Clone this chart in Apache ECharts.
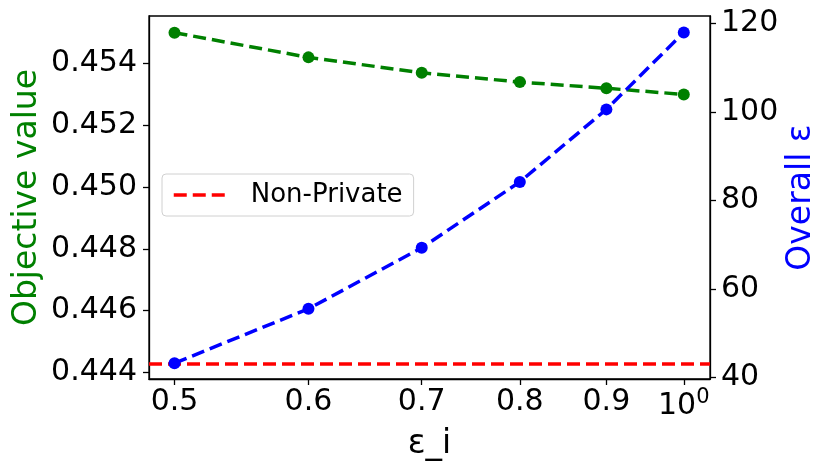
<!DOCTYPE html>
<html>
<head>
<meta charset="utf-8">
<script src="https://cdn.jsdelivr.net/npm/echarts@6/dist/echarts.min.js"></script>
<style>
  html, body { margin: 0; padding: 0; background: #fff; }
  #chart { width: 830px; height: 474px; }
</style>
</head>
<body>
<div id="chart"></div>
<script>
  // eps_i values on the x axis (log scale)
  var epsI = [0.5, 0.6, 0.7, 0.8, 0.9, 1.0];
  // objective value, left axis
  var objective = [0.4550, 0.4542, 0.4537, 0.4534, 0.4532, 0.4530];
  // overall epsilon, right axis
  var overallEps = [43.2, 55.5, 69.3, 84.2, 100.6, 118.0];
  var nonPrivate = 0.44429;

  var xTicks = [0.5, 0.6, 0.7, 0.8, 0.9, 1.0];
  var leftTicks = [0.444, 0.446, 0.448, 0.450, 0.452, 0.454];
  var rightTicks = [40, 60, 80, 100, 120];

  // axis limits
  var xMin = 0.48295, xMax = 1.0363;

  var font = 'DejaVu Sans';
  var dash = [13, 6];
  var tickSize = 30;

  function pairs(xs, ys) {
    return xs.map(function (x, i) { return [x, ys[i]]; });
  }

  var chart = echarts.init(document.getElementById('chart'));
  chart.setOption({
    animation: false,
    textStyle: { fontFamily: font },
    grid: {
      left: 149, right: 120, top: 16, bottom: 95,
      show: true, borderColor: '#000', borderWidth: 1.3,
      outerBoundsMode: 'none'
    },
    legend: {
      left: 162, top: 174,
      data: ['Non-Private'],
      itemWidth: 55, itemHeight: 14,
      padding: [8, 11, 8, 10],
      backgroundColor: '#fff',
      borderColor: '#d0d0d0', borderWidth: 1, borderRadius: 4,
      itemStyle: { opacity: 0 },
      lineStyle: { width: 3.5, type: dash, color: '#ff0000', opacity: 1 },
      textStyle: { fontSize: 26, color: '#000', fontFamily: font, padding: [0, 0, 0, 17] }
    },
    xAxis: {
      type: 'log', logBase: 10,
      min: xMin, max: xMax,
      name: 'ε_i', nameLocation: 'middle', nameGap: 49, nameMoveOverlap: false,
      nameTextStyle: { fontSize: 33, color: '#000', fontFamily: font },
      axisLine: { lineStyle: { color: '#000', width: 1.3 } },
      axisTick: { length: 6, lineStyle: { color: '#000', width: 1.3 }, customValues: xTicks },
      minorTick: { show: false },
      splitLine: { show: false },
      axisLabel: {
        customValues: xTicks,
        margin: 8, fontSize: tickSize, color: '#000', fontFamily: font,
        formatter: function (v) {
          if (Math.abs(v - 1) < 1e-9) return '{b|10}{s|0}';
          return v.toFixed(1);
        },
        rich: {
          b: { fontSize: tickSize, fontFamily: font, color: '#000', verticalAlign: 'bottom' },
          s: { fontSize: 21, fontFamily: font, color: '#000', verticalAlign: 'bottom', padding: [0, 0, 13, 0] }
        }
      }
    },
    yAxis: [{
      type: 'value',
      min: 0.443783, max: 0.45554,
      name: 'Objective value', nameLocation: 'middle', nameGap: 105, nameRotate: 90,
      nameMoveOverlap: false,
      nameTextStyle: { fontSize: 33, color: '#008000', fontFamily: font },
      axisLine: { show: true, lineStyle: { color: '#000', width: 1.3 } },
      axisTick: { show: true, length: 6, lineStyle: { color: '#000', width: 1.3 }, customValues: leftTicks },
      splitLine: { show: false },
      axisLabel: {
        customValues: leftTicks,
        margin: 12, fontSize: tickSize, color: '#000', fontFamily: font,
        formatter: function (v) { return v.toFixed(3); }
      }
    }, {
      type: 'value', position: 'right',
      min: 39.62, max: 121.72,
      name: 'Overall ε', nameLocation: 'middle', nameGap: 75, nameRotate: 90,
      nameMoveOverlap: false,
      nameTextStyle: { fontSize: 33, color: '#0000ff', fontFamily: font },
      axisLine: { show: true, lineStyle: { color: '#000', width: 1.3 } },
      axisTick: { show: true, length: 6, lineStyle: { color: '#000', width: 1.3 }, customValues: rightTicks },
      splitLine: { show: false },
      axisLabel: {
        customValues: rightTicks,
        margin: 11, fontSize: tickSize, color: '#000', fontFamily: font,
        formatter: function (v) { return String(v); }
      }
    }],
    series: [{
      // legend entry only; the horizontal line itself is the markLine on the next series
      name: 'Non-Private',
      type: 'line',
      yAxisIndex: 0,
      data: [],
      symbol: 'none',
      lineStyle: { color: '#ff0000', width: 3.5, type: dash },
      itemStyle: { color: '#ff0000' }
    }, {
      name: 'Objective',
      type: 'line',
      yAxisIndex: 0,
      data: pairs(epsI, objective),
      symbol: 'circle', symbolSize: 12,
      z: 2,
      lineStyle: { color: '#008000', width: 3.5, type: dash },
      itemStyle: { color: '#008000' },
      markLine: {
        silent: true,
        symbol: ['none', 'none'],
        z: 1,
        label: { show: false },
        lineStyle: { color: '#ff0000', width: 3.5, type: dash },
        data: [[{ coord: [xMin, nonPrivate] }, { coord: [xMax, nonPrivate] }]]
      }
    }, {
      name: 'Overall',
      type: 'line',
      yAxisIndex: 1,
      data: pairs(epsI, overallEps),
      symbol: 'circle', symbolSize: 12,
      z: 3,
      lineStyle: { color: '#0000ff', width: 3.5, type: dash },
      itemStyle: { color: '#0000ff' }
    }]
  });
</script>
</body>
</html>
